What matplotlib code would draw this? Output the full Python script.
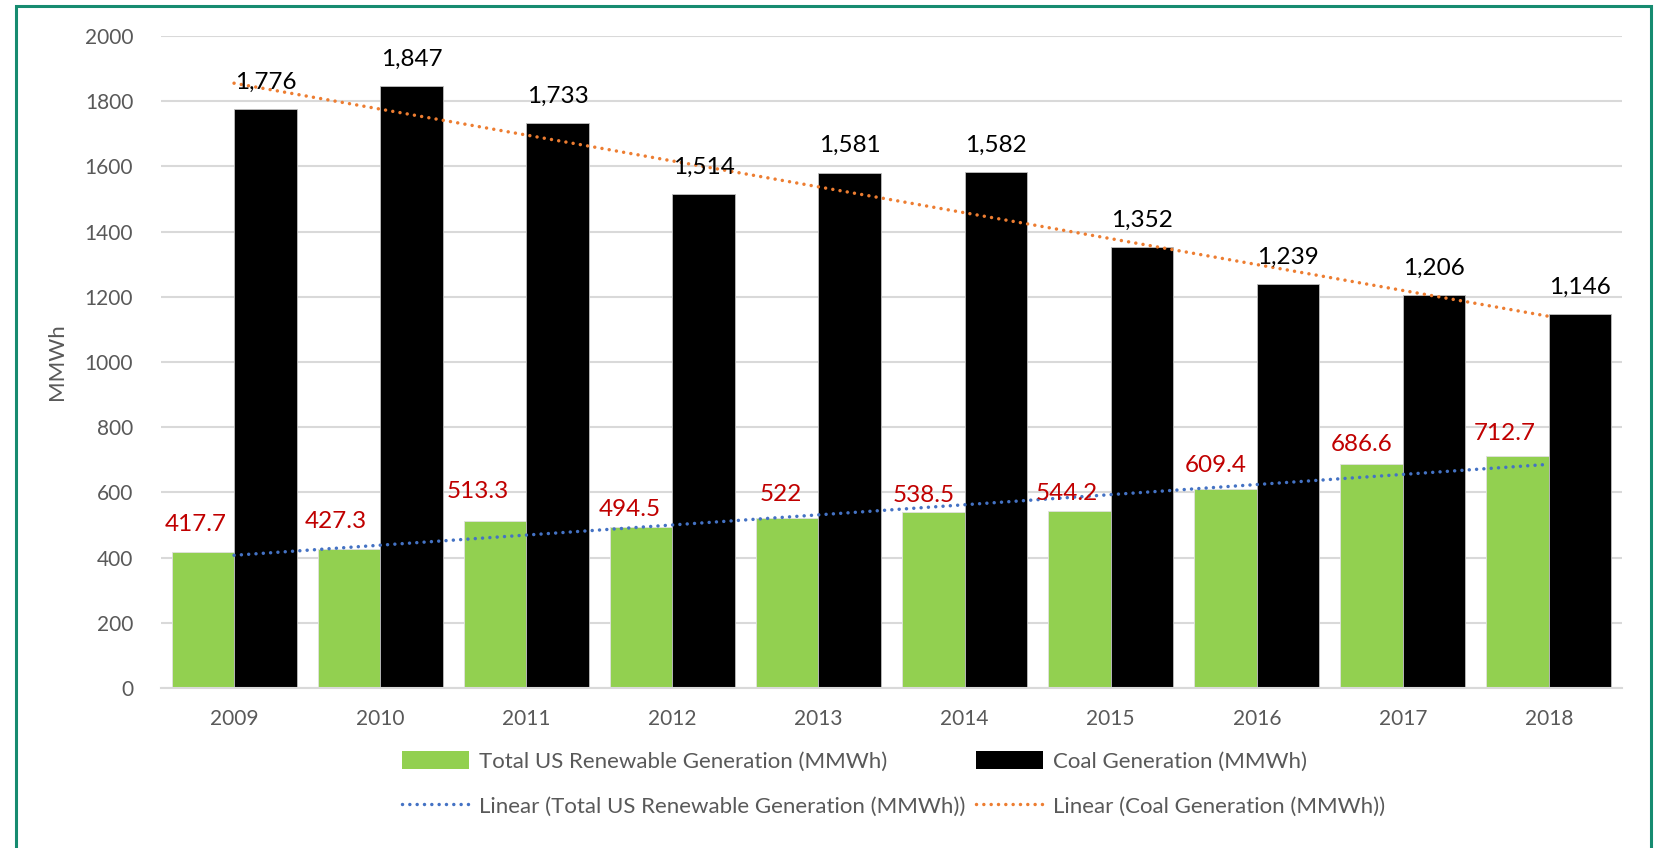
import matplotlib
matplotlib.use("Agg")
import matplotlib.pyplot as plt
import numpy as np
from matplotlib.patches import Patch, Rectangle
from matplotlib.lines import Line2D

# ---- data ----
years = ["2009", "2010", "2011", "2012", "2013", "2014", "2015", "2016", "2017", "2018"]
renewable = [417.7, 427.3, 513.3, 494.5, 522, 538.5, 544.2, 609.4, 686.6, 712.7]
coal = [1776, 1847, 1733, 1514, 1581, 1582, 1352, 1239, 1206, 1146]
renewable_labels = ["417.7", "427.3", "513.3", "494.5", "522", "538.5", "544.2", "609.4", "686.6", "712.7"]
coal_labels = ["1,776", "1,847", "1,733", "1,514", "1,581", "1,582", "1,352", "1,239", "1,206", "1,146"]
yticks = [0, 200, 400, 600, 800, 1000, 1200, 1400, 1600, 1800, 2000]

# label placement (pixel offsets, style only)
ren_label_dx = [-7, -13, -17, -11, -6, -10, -13, -10, -10, -13]
ren_label_dy = [27, 27, 29, 17, 23, 17, 17, 24, 20, 22]

FONT = ["Lato", "DejaVu Sans"]
plt.rcParams["font.family"] = FONT

GREEN = "#92D050"
RED = "#C00000"
GREY_TXT = "#595959"
GRID = "#D9D9D9"
BLUE = "#4472C4"
ORANGE = "#ED7D31"
BORDER = "#168B70"

W, H = 1660, 848
fig = plt.figure(figsize=(W / 100, H / 100), dpi=100)
fig.patch.set_facecolor("white")

# outer border
fig.patches.append(Rectangle((16 / W, -0.05), (1651 - 16) / W, 1.05 - 6 / H,
                             transform=fig.transFigure, fill=False,
                             edgecolor=BORDER, linewidth=2.2, zorder=0))

left, right, bottom, top = 161 / W, 1622 / W, 1 - 688 / H, 1 - 36 / H
ax = fig.add_axes([left, bottom, right - left, top - bottom])

x = np.arange(len(years))
bw = 0.428
ax.bar(x - bw / 2, renewable, width=bw, color=GREEN, edgecolor="#E0E0E0", linewidth=0.6, zorder=2)
ax.bar(x + bw / 2, coal, width=bw, color="black", edgecolor="#BFBFBF", linewidth=0.6, zorder=2)

# trend lines (linear fits)
pr = np.polyfit(x, renewable, 1)
pc = np.polyfit(x, coal, 1)
dot = (0, (0.01, 2.1))
LW = 2.5
ax.plot(x, np.polyval(pr, x), color=BLUE, lw=LW, linestyle=dot, dash_capstyle="round", zorder=4)
ax.plot(x, np.polyval(pc, x), color=ORANGE, lw=LW, linestyle=dot, dash_capstyle="round", zorder=4)

# data labels
for i in range(len(years)):
    ax.annotate(coal_labels[i], (x[i] + bw / 2, coal[i]), xytext=(0, 27 * 0.72),
                textcoords="offset points", ha="center", va="center",
                fontsize=17.5, color="black", zorder=5)
    ax.annotate(renewable_labels[i], (x[i] - bw / 2, renewable[i]),
                xytext=(ren_label_dx[i] * 0.72, ren_label_dy[i] * 0.72),
                textcoords="offset points", ha="center", va="center",
                fontsize=17.5, color=RED, zorder=5)

ax.set_xlim(-0.5, len(years) - 0.5)
ax.set_ylim(0, 2000)
ax.set_yticks(yticks)
ax.set_yticklabels([str(v) for v in yticks])
ax.set_xticks(x)
ax.set_xticklabels(years)
ax.tick_params(axis="both", length=0, labelsize=15, colors=GREY_TXT)
ax.tick_params(axis="y", pad=20)
ax.tick_params(axis="x", pad=15)
for s in ["top", "right", "left"]:
    ax.spines[s].set_visible(False)
ax.spines["bottom"].set_color(GRID)
ax.spines["bottom"].set_linewidth(1.5)
ax.yaxis.grid(True, color=GRID, linewidth=1.5, zorder=0)
ax.set_axisbelow(True)
ax.set_ylabel("MMWh", fontsize=16, color=GREY_TXT)
ax.yaxis.set_label_coords(-(161 - 67) / (1622 - 161), 0.5)

handles = [
    Patch(facecolor=GREEN, edgecolor="none"),
    Line2D([0], [0], color=BLUE, lw=LW, linestyle=dot, dash_capstyle="round"),
    Patch(facecolor="black", edgecolor="none"),
    Line2D([0], [0], color=ORANGE, lw=LW, linestyle=dot, dash_capstyle="round"),
]
labels = [
    "Total US Renewable Generation (MMWh)",
    "Linear (Total US Renewable Generation (MMWh))",
    "Coal Generation (MMWh)",
    "Linear (Coal Generation (MMWh))",
]
leg = fig.legend(handles, labels, ncol=2, loc="upper left",
                 bbox_to_anchor=(402 / W, 1 - 751 / H), frameon=False,
                 fontsize=16, labelcolor=GREY_TXT, handlelength=3.0,
                 handleheight=0.85, handletextpad=0.45, columnspacing=0.5,
                 labelspacing=1.1, borderaxespad=0, borderpad=0)

fig.savefig("out.png", dpi=100, facecolor="white")
